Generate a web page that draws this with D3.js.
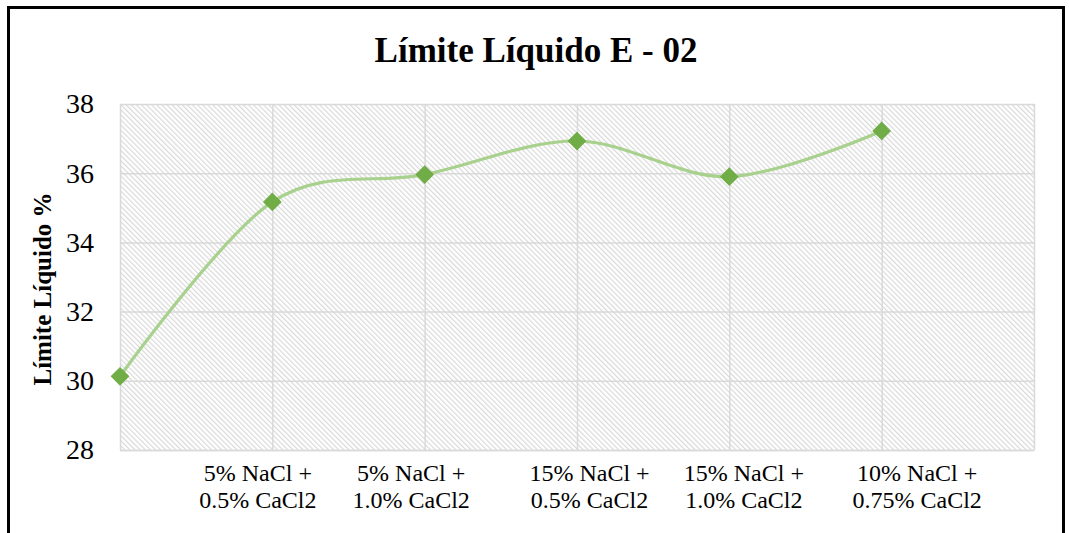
<!DOCTYPE html>
<html>
<head>
<meta charset="utf-8">
<script src="https://cdn.jsdelivr.net/npm/d3@7"></script>
<style>
  html, body { margin: 0; padding: 0; background: #fff; }
  svg { display: block; }
</style>
</head>
<body>
<svg id="chart" width="1069" height="533"></svg>
<script>
// Categories along the x axis (first and last slots carry no label)
const categories = [
  "",
  "5% NaCl +\n0.5% CaCl2",
  "5% NaCl +\n1.0% CaCl2",
  "15% NaCl +\n0.5% CaCl2",
  "15% NaCl +\n1.0% CaCl2",
  "10% NaCl +\n0.75% CaCl2",
  " "
];
// Liquid limit (%) for each mixture; the last slot is empty
const values = [30.13, 35.17, 35.96, 36.93, 35.9, 37.22, null];
const yTicks = [28, 30, 32, 34, 36, 38];

const W = 1069, H = 533;
const margin = { left: 120, right: 1069 - 1034, top: 104, bottom: 533 - 450 };
const serif = "'Liberation Serif', 'Times New Roman', Times, serif";

// horizontal nudges for the wrapped category labels
const labelShift = [0, -15, -14, 12, 14, 35, 0];

const svg = d3.select("#chart");

// diagonal hatch fill for the plot area
const defs = svg.append("defs");
const pat = defs.append("pattern")
  .attr("id", "hatch")
  .attr("patternUnits", "userSpaceOnUse")
  .attr("width", 3.6).attr("height", 3.6)
  .attr("patternTransform", "rotate(-45)");
pat.append("rect").attr("width", 3.6).attr("height", 3.6).attr("fill", "#ffffff");
pat.append("rect").attr("x", 0).attr("y", 0).attr("width", 1.2).attr("height", 3.6).attr("fill", "#d9d9d9");

// outer frame
svg.append("rect")
  .attr("x", 0).attr("y", 0).attr("width", W).attr("height", H)
  .attr("fill", "#fff");
svg.append("rect")
  .attr("x", 8.5).attr("y", 7.5).attr("width", 1055).attr("height", 540)
  .attr("fill", "none").attr("stroke", "#000").attr("stroke-width", 3);

const x = d3.scalePoint()
  .domain(categories)
  .range([margin.left, W - margin.right])
  .padding(0);

const y = d3.scaleLinear()
  .domain([28, 38])
  .range([H - margin.bottom, margin.top]);

// plot background
svg.append("rect")
  .attr("x", margin.left).attr("y", margin.top)
  .attr("width", W - margin.right - margin.left)
  .attr("height", H - margin.bottom - margin.top)
  .attr("fill", "url(#hatch)");

// horizontal gridlines
svg.append("g")
  .attr("transform", `translate(${margin.left},0)`)
  .call(d3.axisLeft(y).tickValues(yTicks).tickSize(-(W - margin.right - margin.left)).tickFormat(""))
  .call(g => g.select(".domain").remove())
  .call(g => g.selectAll("line").attr("stroke", "#d9d9d9").attr("stroke-width", 1.5));

// vertical gridlines
svg.append("g")
  .attr("transform", `translate(0,${margin.top})`)
  .call(d3.axisBottom(x).tickSize(H - margin.bottom - margin.top).tickFormat(""))
  .call(g => g.select(".domain").remove())
  .call(g => g.selectAll("line").attr("stroke", "#d9d9d9").attr("stroke-width", 1.5));

// y tick labels
svg.append("g")
  .attr("transform", `translate(${margin.left},0)`)
  .call(d3.axisLeft(y).tickValues(yTicks).tickSize(0).tickPadding(26))
  .call(g => g.select(".domain").remove())
  .call(g => g.selectAll("text")
    .attr("font-family", serif)
    .attr("font-size", 28).attr("fill", "#000"));

// x tick labels (two lines each)
const xAxis = svg.append("g")
  .attr("transform", `translate(0,${H - margin.bottom})`)
  .call(d3.axisBottom(x).tickSize(0).tickFormat(""))
  .call(g => g.select(".domain").attr("stroke", "#d9d9d9").attr("stroke-width", 1.5));
xAxis.selectAll(".tick").each(function(d, i) {
  const lines = d.trim() ? d.split("\n") : [];
  const t = d3.select(this).append("text")
    .attr("fill", "#000")
    .attr("font-family", serif)
    .attr("font-size", 24)
    .attr("text-anchor", "middle");
  lines.forEach((ln, k) => {
    t.append("tspan").attr("x", labelShift[i]).attr("y", 31 + k * 27).text(ln);
  });
});

// smoothed series line
const pts = categories.map((c, i) => ({ c, v: values[i] })).filter(d => d.v != null);
const line = d3.line()
  .x(d => x(d.c))
  .y(d => y(d.v))
  .curve(d3.curveCardinal.tension(0));
svg.append("path")
  .datum(pts)
  .attr("d", line)
  .attr("fill", "none")
  .attr("stroke", "#a9d18e")
  .attr("stroke-width", 3.2)
  .attr("stroke-linecap", "round");

// diamond markers
const diamond = d3.symbol().type(d3.symbolSquare).size(150);
svg.append("g").selectAll("path")
  .data(pts)
  .join("path")
  .attr("d", diamond)
  .attr("transform", d => `translate(${x(d.c)},${y(d.v)}) rotate(45)`)
  .attr("fill", "#70ad47")
  .attr("stroke", "#70ad47")
  .attr("stroke-width", 1);

// title
svg.append("text")
  .attr("x", 536).attr("y", 62)
  .attr("text-anchor", "middle")
  .attr("font-family", serif)
  .attr("font-weight", "bold")
  .attr("font-size", 35)
  .attr("fill", "#000")
  .text("Límite Líquido E - 02");

// y-axis title
svg.append("text")
  .attr("transform", `translate(51,289) rotate(-90)`)
  .attr("text-anchor", "middle")
  .attr("font-family", serif)
  .attr("font-weight", "bold")
  .attr("font-size", 25)
  .attr("fill", "#000")
  .text("Límite Líquido %");
</script>
</body>
</html>
